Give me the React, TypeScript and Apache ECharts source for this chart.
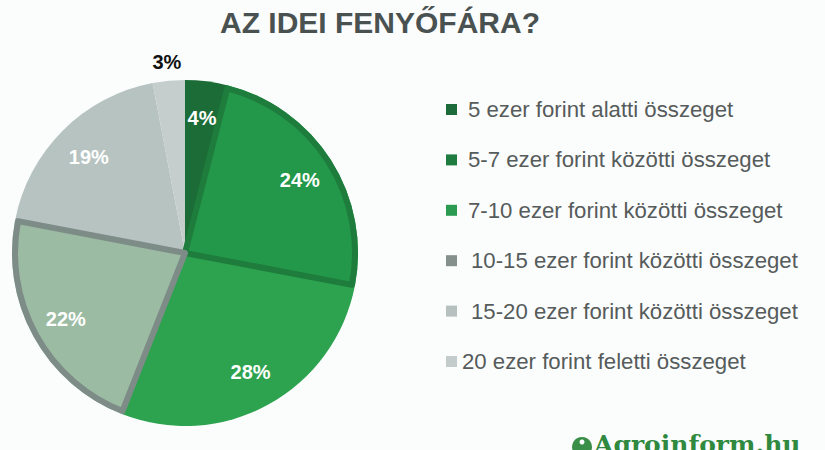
import React, { useEffect, useRef } from "react";
import * as echarts from "echarts";

const titleText = "AZ IDEI FENYŐFÁRA?";
const categories = [
  "5 ezer forint alatti összeget",
  "5-7 ezer forint közötti összeget",
  "7-10 ezer forint közötti összeget",
  "10-15 ezer forint közötti összeget",
  "15-20 ezer forint közötti összeget",
  "20 ezer forint feletti összeget",
];
const values = [4, 24, 28, 22, 19, 3];
const fillColors = ["#1c6c38", "#24984a", "#2da24f", "#9bbba3", "#b6c3c1", "#c5cecc"];
const borderColors = ["", "#1e7c3c", "", "#7e8c88", "", ""];
const legendColors = ["#1d6a3a", "#1f7c41", "#2a9b50", "#858f8c", "#b6c0bf", "#c3ccca"];
const legendPads = [6, 6, 6, 9, 9, 0];
const outsideLabel = [false, false, false, false, false, true];
const logoText = "Agroinform.hu";

const FONT = "'Liberation Sans', Arial, sans-serif";
const CENTER: [number, number] = [185, 253];
const R = 173;

export default function App() {
  const ref = useRef<HTMLDivElement>(null);
  useEffect(() => {
    if (!ref.current) return;
    const chart = echarts.init(ref.current, undefined, { renderer: "svg" });
    const transparent = "rgba(0,0,0,0)";
    chart.setOption({
      animation: false,
      backgroundColor: "#fbfdfd",
      title: {
        text: titleText,
        left: 215,
        top: 2,
        textStyle: { fontSize: 30, fontWeight: "bold", color: "#4a5251", fontFamily: FONT },
      },
      legend: {
        orient: "vertical",
        left: 441,
        top: 92.5,
        itemWidth: 11,
        itemHeight: 11,
        itemGap: 26.4,
        icon: "rect",
        selectedMode: false,
        textStyle: { fontSize: 22.2, color: "#565b5b", fontFamily: FONT, lineHeight: 24 },
        data: categories.map((name, i) => ({
          name,
          itemStyle: { color: legendColors[i] },
          textStyle: { padding: [0, 0, 0, legendPads[i]] },
        })),
      },
      graphic: [
        {
          type: "circle",
          shape: { cx: 582, cy: 447, r: 10 },
          style: { fill: "#3a8f48" },
        },
        {
          type: "circle",
          shape: { cx: 582, cy: 442, r: 2.5 },
          style: { fill: "#ffffff" },
        },
        {
          type: "text",
          x: 594,
          y: 432,
          style: {
            text: logoText,
            fontSize: 25,
            fontWeight: "bold",
            fontFamily: "'DejaVu Serif', serif",
            fill: "#2f8a3f",
          },
        },
      ],
      series: [
        {
          type: "pie",
          center: CENTER,
          radius: R,
          silent: true,
          label: { show: false },
          labelLine: { show: false },
          data: categories.map((name, i) => ({
            name,
            value: values[i],
            itemStyle: { color: fillColors[i] },
          })),
        },
        {
          type: "pie",
          center: CENTER,
          radius: R - 3,
          silent: true,
          label: { show: false },
          labelLine: { show: false },
          data: categories.map((name, i) => ({
            name,
            value: values[i],
            itemStyle: borderColors[i]
              ? { color: fillColors[i], borderColor: borderColors[i], borderWidth: 6 }
              : { color: transparent, borderWidth: 0 },
          })),
        },
        {
          type: "pie",
          center: CENTER,
          radius: [93, R],
          silent: true,
          itemStyle: { color: transparent },
          labelLine: { show: false },
          data: categories.map((name, i) => ({
            name,
            value: values[i],
            label: {
              show: !outsideLabel[i],
              position: "inside",
              formatter: "{c}%",
              color: "#ffffff",
              fontSize: 20,
              fontWeight: "bold",
              fontFamily: FONT,
            },
          })),
        },
        {
          type: "pie",
          center: CENTER,
          radius: [182, 196],
          silent: true,
          itemStyle: { color: transparent },
          labelLine: { show: false },
          data: categories.map((name, i) => ({
            name,
            value: values[i],
            label: {
              show: outsideLabel[i],
              position: "inside",
              formatter: "{c}%",
              color: "#111111",
              fontSize: 20,
              fontWeight: "bold",
              fontFamily: FONT,
            },
          })),
        },
      ],
    });
    return () => chart.dispose();
  }, []);
  return (
    <div
      ref={ref}
      style={{ position: "fixed", left: 0, top: 0, width: 825, height: 450 }}
    />
  );
}
